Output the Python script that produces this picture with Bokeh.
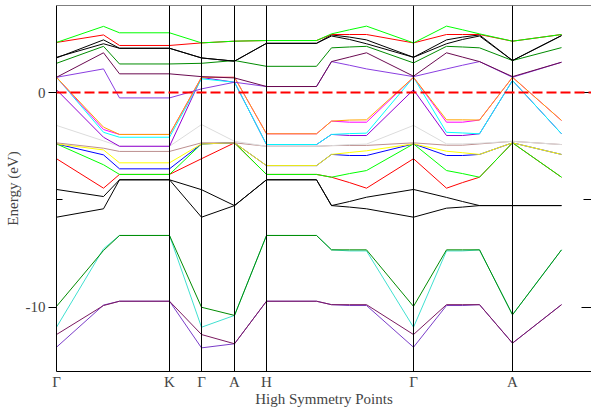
from bokeh.plotting import figure
from bokeh.models import Range1d, Span, FixedTicker, LinearAxis
from bokeh.embed import file_html
from bokeh.resources import INLINE

# k-path distance (arbitrary units) of the computed k points
k_path = [0, 47, 63, 113, 145, 178, 210, 260, 275, 293, 310, 357, 390, 406, 423, 456, 505]
sym_pos = [0, 113, 145, 178, 210, 357, 456]
sym_labels = ["Γ", "K", "Γ", "A", "H", "Γ", "A"]

# band energies (eV)
violet_low = [-11.85, -9.89, -9.71, -9.71, -11.88, -11.69, -9.71, -9.71, -9.87, -9.91, -9.91, -11.85, -9.91, -9.91, -9.87, -11.66, -9.87]
maroon_low = [-11.26, -9.91, -9.71, -9.71, -11.26, -11.69, -9.71, -9.71, -9.87, -9.87, -9.87, -11.26, -9.87, -9.87, -9.87, -11.66, -9.87]
turq_low = [-10.92, -7.27, -6.65, -6.65, -10.92, -10.37, -6.65, -6.65, -7.32, -7.37, -7.37, -10.92, -7.37, -7.37, -7.32, -10.34, -7.32]
green_low = [-9.95, -7.35, -6.65, -6.65, -9.99, -10.37, -6.65, -6.65, -7.32, -7.32, -7.32, -9.95, -7.32, -7.32, -7.32, -10.34, -7.32]
black_lo1 = [-4.51, -4.84, -4.06, -4.06, -4.52, -5.26, -4.06, -4.06, -5.26, -5.07, -4.87, -4.51, -4.88, -5.07, -5.26, -5.26, -5.26]
black_lo2 = [-5.80, -5.41, -4.06, -4.06, -5.80, -5.26, -4.06, -4.06, -5.26, -5.33, -5.41, -5.80, -5.38, -5.33, -5.26, -5.26, -5.26]
red_mid = [-3.08, -4.45, -3.81, -3.81, -3.08, -2.34, -3.81, -3.81, -3.94, -4.19, -4.45, -3.08, -4.45, -4.19, -3.94, -2.34, -3.94]
lime_mid = [-2.39, -3.36, -3.81, -3.81, -2.39, -2.34, -3.81, -3.81, -3.94, -3.77, -3.63, -2.39, -3.63, -3.77, -3.94, -2.34, -3.94]
blue_mid = [-2.39, -2.90, -3.55, -3.55, -2.39, -2.34, -3.40, -3.40, -2.88, -2.93, -2.93, -2.39, -2.93, -2.93, -2.88, -2.34, -2.88]
yellow_mid = [-2.39, -2.67, -3.27, -3.27, -2.39, -2.34, -3.40, -3.40, -2.88, -2.79, -2.71, -2.39, -2.73, -2.80, -2.88, -2.34, -2.88]
brown_mid = [-2.34, -2.59, -2.74, -2.74, -2.34, -2.34, -2.50, -2.50, -2.47, -2.46, -2.46, -2.34, -2.45, -2.45, -2.39, -2.27, -2.42]
grey_mid = [-1.53, -2.25, -2.50, -2.50, -1.49, -2.27, -2.50, -2.50, -2.47, -2.42, -2.40, -1.53, -2.39, -2.39, -2.36, -2.27, -2.42]
violet_mid = [0.13, -2.08, -2.50, -2.50, 0.70, 0.48, -2.42, -2.42, -1.95, -2.00, -2.00, 0.13, -2.00, -2.00, -1.92, 0.56, -1.92]
cyan_mid = [0.71, -1.85, -2.08, -2.08, 0.64, 0.48, -2.42, -2.42, -1.95, -1.91, -1.89, 0.71, -1.85, -1.88, -1.92, 0.56, -1.92]
magenta_mid = [0.71, -1.72, -1.95, -1.95, 0.71, 0.71, -1.92, -1.92, -1.33, -1.38, -1.38, 0.71, -1.38, -1.38, -1.28, 0.71, -1.30]
orange_mid = [0.71, -1.61, -1.95, -1.95, 0.71, 0.71, -1.92, -1.92, -1.33, -1.28, -1.27, 0.71, -1.27, -1.27, -1.28, 0.71, -1.30]
indigo_up = [0.71, 1.10, -0.25, -0.25, 0.17, 0.48, 0.28, 0.28, 1.44, 1.27, 1.10, 0.74, 1.10, 1.27, 1.44, 0.71, 1.41]
maroon_up = [0.71, 1.85, 0.87, 0.87, 0.74, 0.68, 0.28, 0.28, 1.44, 1.65, 1.85, 0.76, 1.85, 1.65, 1.44, 0.74, 1.41]
green_up = [1.36, 2.15, 1.33, 1.33, 1.36, 1.49, 1.22, 1.22, 2.08, 2.12, 2.15, 1.38, 2.15, 2.12, 2.08, 1.49, 2.09]
black_up2 = [1.64, 2.27, 2.06, 2.06, 1.61, 1.46, 2.29, 2.29, 2.63, 2.47, 2.27, 1.64, 2.27, 2.47, 2.63, 1.49, 2.65]
black_up1 = [1.61, 2.45, 2.06, 2.06, 1.61, 1.46, 2.29, 2.29, 2.68, 2.58, 2.45, 1.64, 2.45, 2.58, 2.68, 1.49, 2.65]
red_up = [2.33, 2.68, 2.19, 2.19, 2.31, 2.39, 2.42, 2.42, 2.70, 2.70, 2.70, 2.31, 2.70, 2.70, 2.70, 2.39, 2.70]
lime_up = [2.33, 3.08, 2.78, 2.78, 2.31, 2.39, 2.42, 2.42, 2.73, 2.92, 3.09, 2.31, 3.09, 2.92, 2.73, 2.39, 2.70]

bands = [
    (violet_low, "#7a3cc8"), (maroon_low, "#7a1a60"), (turq_low, "#40e0d0"), (green_low, "#008b00"),
    (black_lo1, "#000000"), (black_lo2, "#000000"), (red_mid, "#ff0000"), (lime_mid, "#00ff00"),
    (blue_mid, "#0000ff"), (yellow_mid, "#ffff00"), (brown_mid, "#bc8f8f"), (grey_mid, "#dcdcdc"),
    (violet_mid, "#9400d3"), (cyan_mid, "#00ffff"), (magenta_mid, "#ff00ff"), (orange_mid, "#ffa500"),
    (indigo_up, "#8a3ee0"), (maroon_up, "#6a0a50"), (green_up, "#008b00"), (black_up2, "#000000"),
    (black_up1, "#000000"), (red_up, "#ff0000"), (lime_up, "#00ff00"),
]

FONT = "Liberation Serif"

p = figure(width=591, height=409, output_backend="svg", toolbar_location=None,
           x_range=Range1d(0, 535), y_range=Range1d(-12.98, 4.05),
           min_border_left=56, min_border_right=0, min_border_top=5, min_border_bottom=38,
           x_axis_label="High Symmetry Points", y_axis_label="Energy (eV)")
p.grid.visible = False
p.outline_line_color = None
p.background_fill_color = "white"
p.border_fill_color = "white"

for vals, col in bands:
    p.line(k_path, vals, line_color=col, line_width=1)

# x axis
xa = p.xaxis[0]
xa.ticker = FixedTicker(ticks=sym_pos)
xa.major_label_overrides = {pos: lab for pos, lab in zip(sym_pos, sym_labels)}
xa.major_tick_line_color = None
xa.minor_tick_line_color = None
xa.major_tick_in = 0
xa.major_tick_out = 0
xa.minor_tick_in = 0
xa.minor_tick_out = 0
xa.axis_line_color = "black"
xa.major_label_standoff = 2
xa.major_label_text_font = FONT
xa.major_label_text_font_size = "15px"
xa.axis_label_text_font = FONT
xa.axis_label_text_font_size = "15px"
xa.axis_label_text_font_style = "normal"
xa.axis_label_standoff = -2

# y axis
ya = p.yaxis[0]
ya.ticker = FixedTicker(ticks=[0, -10], minor_ticks=[-5])
ya.major_label_overrides = {0: "0", -10: "-10"}
ya.major_tick_out = 8
ya.major_tick_in = 0
ya.minor_tick_in = 6
ya.minor_tick_out = 0
ya.axis_line_color = "black"
ya.major_label_standoff = 3
ya.major_label_text_font = FONT
ya.major_label_text_font_size = "15px"
ya.axis_label_text_font = FONT
ya.axis_label_text_font_size = "15px"
ya.axis_label_text_font_style = "normal"
ya.axis_label_standoff = 2

ra = LinearAxis(ticker=FixedTicker(ticks=[0, -10], minor_ticks=[-5]),
                major_tick_in=10, major_tick_out=0, minor_tick_in=8, minor_tick_out=0,
                axis_line_color=None, major_label_overrides={0: "", -10: ""},
                major_label_standoff=0,
                major_tick_line_color="black", minor_tick_line_color="black")
p.add_layout(ra, "right")

p.add_layout(Span(location=4.05, dimension="width", line_color="black", line_width=1))
for pos in sym_pos[1:]:
    p.add_layout(Span(location=pos, dimension="height", line_color="black", line_width=1))
p.add_layout(Span(location=0, dimension="width", line_color="#ff0000", line_dash="10 4", line_width=2))

open("out.html", "w").write(file_html(p, INLINE))
